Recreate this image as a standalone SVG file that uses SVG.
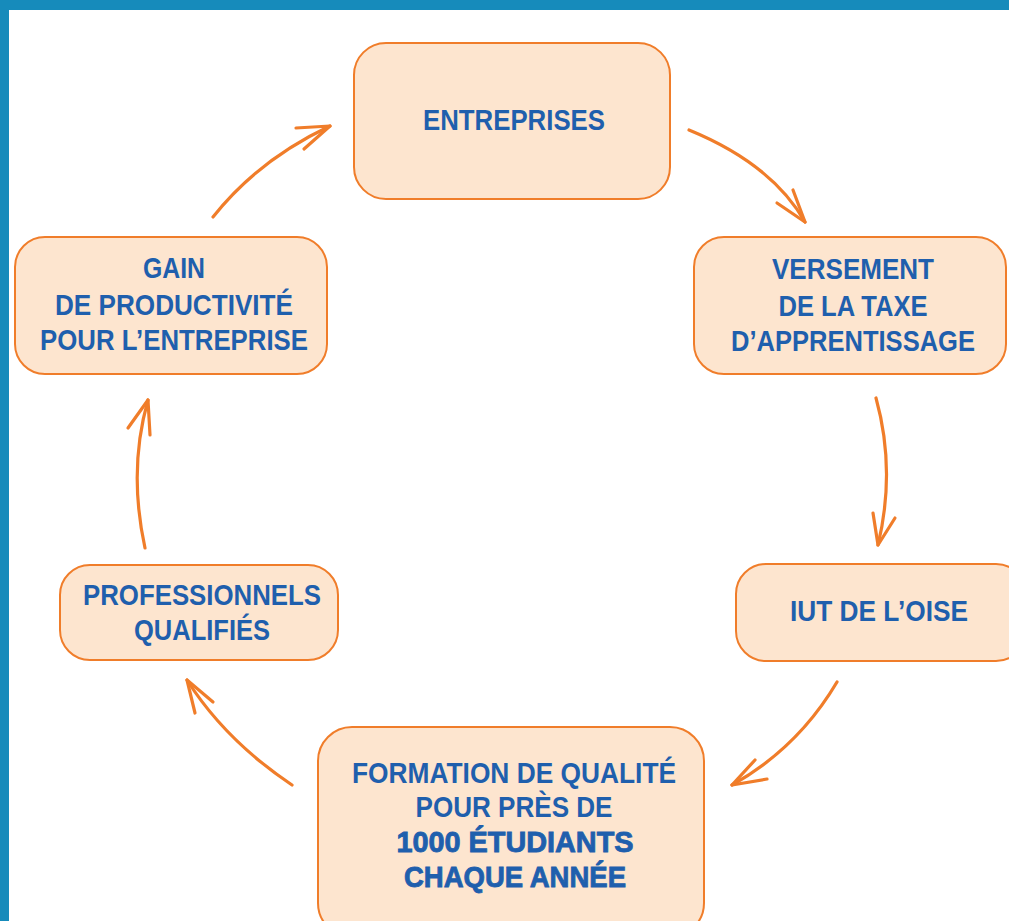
<svg xmlns="http://www.w3.org/2000/svg" width="1009" height="921" viewBox="0 0 1009 921">
<style>
.box{fill:#fde5cf;stroke:#f07d2a;stroke-width:2}
.t{font-family:"Liberation Sans",Arial,sans-serif;font-weight:bold;font-size:30px;fill:#1f5fad;text-anchor:middle}
.heavy{stroke:#1f5fad;stroke-width:0.9}
.arr{fill:none;stroke:#f07d2a;stroke-width:3.2;stroke-linecap:round;stroke-linejoin:round}
</style>
<rect x="0" y="0" width="1009" height="921" fill="#ffffff"/>
<rect x="0" y="0" width="1009" height="10" fill="#168bbb"/>
<rect x="0" y="0" width="9" height="921" fill="#168bbb"/>
<g id="connectors">
<path class="arr" d="M213,217 Q258,160 330,126"/>
<path class="arr" d="M296,128 L330,126 L304,149"/>
<path class="arr" d="M689,130 Q772,164 805,222"/>
<path class="arr" d="M777,203 L805,222 L793,190"/>
<path class="arr" d="M876,398 Q896,470 878,545"/>
<path class="arr" d="M873,513 L878,545 L895,518"/>
<path class="arr" d="M837,682 Q798,748 732,785"/>
<path class="arr" d="M755,760 L732,785 L767,779"/>
<path class="arr" d="M292,785 Q225,740 187,680"/>
<path class="arr" d="M213,702 L187,680 L195,713"/>
<path class="arr" d="M145,548 Q128,470 148,400"/>
<path class="arr" d="M128,428 L148,400 L150,435"/>
</g>
<g id="entreprises">
<rect class="box" x="354" y="43" width="316" height="156" rx="32"/>
<text class="t" x="514" y="130" textLength="182" lengthAdjust="spacingAndGlyphs">ENTREPRISES</text>
</g>
<g id="versement">
<rect class="box" x="694" y="237" width="312" height="137" rx="30"/>
<text class="t" x="853" y="279" textLength="162" lengthAdjust="spacingAndGlyphs">VERSEMENT</text>
<text class="t" x="853" y="316" textLength="149" lengthAdjust="spacingAndGlyphs">DE LA TAXE</text>
<text class="t" x="853" y="351" textLength="244" lengthAdjust="spacingAndGlyphs">D’APPRENTISSAGE</text>
</g>
<g id="iut">
<rect class="box" x="736" y="564" width="290" height="97" rx="30"/>
<text class="t" x="879" y="621" textLength="178" lengthAdjust="spacingAndGlyphs">IUT DE L’OISE</text>
</g>
<g id="formation">
<rect class="box" x="318" y="727" width="386" height="210" rx="34"/>
<text class="t" x="514" y="783" textLength="324" lengthAdjust="spacingAndGlyphs">FORMATION DE QUALITÉ</text>
<text class="t" x="514" y="817" textLength="197" lengthAdjust="spacingAndGlyphs">POUR PRÈS DE</text>
<text class="t heavy" x="515" y="852" textLength="237" lengthAdjust="spacingAndGlyphs">1000 ÉTUDIANTS</text>
<text class="t heavy" x="515" y="887" textLength="222" lengthAdjust="spacingAndGlyphs">CHAQUE ANNÉE</text>
</g>
<g id="professionnels">
<rect class="box" x="60" y="565" width="278" height="95" rx="30"/>
<text class="t" x="202" y="605" textLength="238" lengthAdjust="spacingAndGlyphs">PROFESSIONNELS</text>
<text class="t" x="202" y="640" textLength="136" lengthAdjust="spacingAndGlyphs">QUALIFIÉS</text>
</g>
<g id="gain">
<rect class="box" x="15" y="237" width="312" height="137" rx="30"/>
<text class="t" x="174" y="278" textLength="62" lengthAdjust="spacingAndGlyphs">GAIN</text>
<text class="t" x="174" y="315" textLength="238" lengthAdjust="spacingAndGlyphs">DE PRODUCTIVITÉ</text>
<text class="t" x="174" y="350" textLength="268" lengthAdjust="spacingAndGlyphs">POUR L’ENTREPRISE</text>
</g>
</svg>
